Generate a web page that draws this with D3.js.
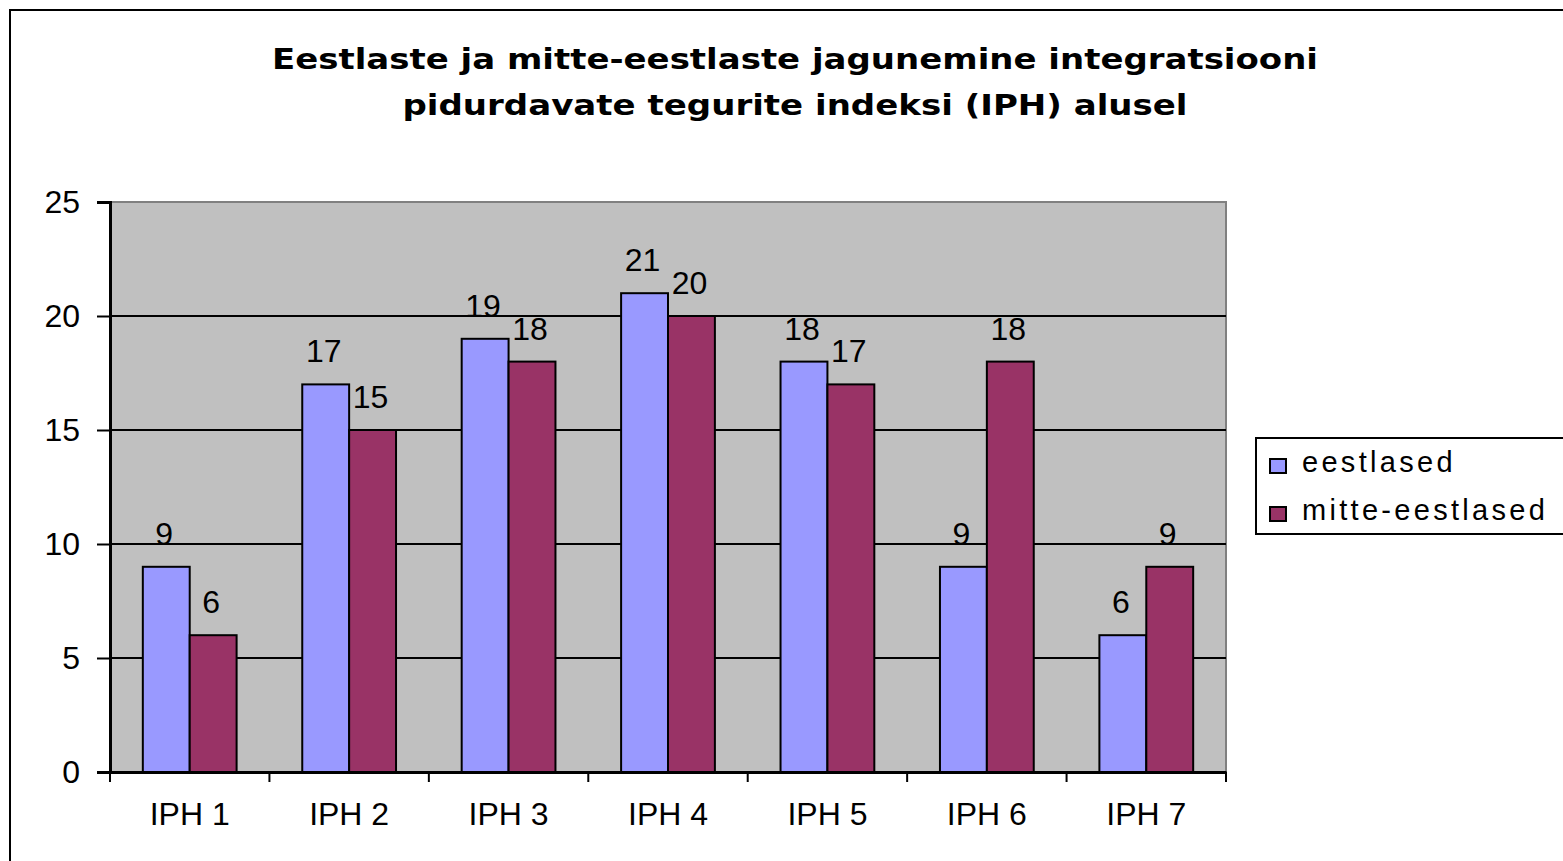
<!DOCTYPE html>
<html>
<head>
<meta charset="utf-8">
<script src="https://cdn.jsdelivr.net/npm/d3@7"></script>
<style>
  body { margin: 0; background: #fff; }
  svg { display: block; }
</style>
</head>
<body>
<svg id="chart" width="1563" height="861"></svg>
<script>
// chart data
const categories = ["IPH 1", "IPH 2", "IPH 3", "IPH 4", "IPH 5", "IPH 6", "IPH 7"];
const seriesNames = ["eestlased", "mitte-eestlased"];
const eestlased = [9, 17, 19, 21, 18, 9, 6];
const mitteEestlased = [6, 15, 18, 20, 17, 18, 9];
const yTicks = [0, 5, 10, 15, 20, 25];
const titleLines = [
  "Eestlaste ja mitte-eestlaste jagunemine integratsiooni",
  "pidurdavate tegurite indeksi (IPH) alusel"
];
const colors = ["#9999FF", "#993366"];

const svg = d3.select("#chart");

// plot box
const plot = { left: 110, top: 202, right: 1226, bottom: 772 };

// outer chart border (right/bottom are outside the window)
svg.append("rect")
  .attr("x", 10).attr("y", 10)
  .attr("width", 1600).attr("height", 900)
  .attr("fill", "#fff")
  .attr("stroke", "#000")
  .attr("stroke-width", 2);

// title
titleLines.forEach((line, i) => {
  svg.append("text")
    .attr("x", 795)
    .attr("y", 69 + i * 46)
    .attr("text-anchor", "middle")
    .attr("font-family", "DejaVu Sans, Verdana, sans-serif")
    .attr("font-weight", "bold")
    .attr("font-size", "29px")
    .attr("textLength", i === 0 ? 1046 : 785)
    .attr("lengthAdjust", "spacingAndGlyphs")
    .attr("fill", "#000")
    .text(line);
});

const x = d3.scaleBand()
  .domain(categories)
  .range([plot.left, plot.right])
  .paddingInner(0)
  .paddingOuter(0);

const xInner = d3.scaleBand()
  .domain(seriesNames)
  .range([0, x.bandwidth()])
  .paddingInner(0)
  .paddingOuter(0.7);

const y = d3.scaleLinear()
  .domain([0, 25])
  .range([plot.bottom, plot.top]);

// plot background
svg.append("rect")
  .attr("x", plot.left).attr("y", plot.top)
  .attr("width", plot.right - plot.left)
  .attr("height", plot.bottom - plot.top)
  .attr("fill", "#C0C0C0")
  .attr("stroke", "#808080")
  .attr("stroke-width", 2);

// gridlines
svg.append("g")
  .selectAll("line")
  .data(yTicks.filter(t => t > 0 && t < 25))
  .join("line")
  .attr("x1", plot.left).attr("x2", plot.right)
  .attr("y1", d => y(d)).attr("y2", d => y(d))
  .attr("stroke", "#000")
  .attr("stroke-width", 2);

// bars
const data = categories.map((c, i) => ({
  cat: c,
  values: [
    { name: seriesNames[0], value: eestlased[i], color: colors[0] },
    { name: seriesNames[1], value: mitteEestlased[i], color: colors[1] }
  ]
}));

const groups = svg.append("g")
  .selectAll("g")
  .data(data)
  .join("g")
  .attr("transform", d => `translate(${x(d.cat)},0)`);

groups.selectAll("rect")
  .data(d => d.values)
  .join("rect")
  .attr("x", d => xInner(d.name))
  .attr("y", d => y(d.value))
  .attr("width", xInner.bandwidth())
  .attr("height", d => y(0) - y(d.value))
  .attr("fill", d => d.color)
  .attr("stroke", "#000")
  .attr("stroke-width", 2);

// data labels
groups.selectAll("text")
  .data(d => d.values)
  .join("text")
  .attr("x", d => xInner(d.name) + xInner.bandwidth() / 2 - 2)
  .attr("y", d => y(d.value) - 22)
  .attr("text-anchor", "middle")
  .attr("font-family", "Liberation Sans, Arial, sans-serif")
  .attr("font-size", "32px")
  .attr("fill", "#000")
  .text(d => d.value);

// y axis
const yAxis = svg.append("g")
  .attr("transform", `translate(${plot.left},0)`)
  .call(d3.axisLeft(y).tickValues(yTicks).tickSize(13).tickPadding(17));
yAxis.select(".domain").attr("stroke", "#000").attr("stroke-width", 3);
yAxis.selectAll(".tick line").attr("stroke", "#000").attr("stroke-width", 2);
yAxis.selectAll(".tick text")
  .attr("font-family", "Liberation Sans, Arial, sans-serif")
  .attr("font-size", "32px")
  .attr("fill", "#000")
  .attr("dy", "0.33em");

// x axis
const xAxis = svg.append("g")
  .attr("transform", `translate(0,${plot.bottom})`)
  .call(d3.axisBottom(x).tickSize(0).tickPadding(30));
xAxis.select(".domain").attr("stroke", "#000").attr("stroke-width", 3);
xAxis.selectAll(".tick text")
  .attr("font-family", "Liberation Sans, Arial, sans-serif")
  .attr("font-size", "32px")
  .attr("fill", "#000");
// category boundary ticks
xAxis.selectAll(".boundary")
  .data(d3.range(categories.length + 1))
  .join("line")
  .attr("class", "boundary")
  .attr("x1", i => plot.left + i * x.step())
  .attr("x2", i => plot.left + i * x.step())
  .attr("y1", 0).attr("y2", 10)
  .attr("stroke", "#000")
  .attr("stroke-width", 2);

// legend
const legend = svg.append("g").attr("transform", "translate(1256,438)");
legend.append("rect")
  .attr("x", 0).attr("y", 0)
  .attr("width", 400).attr("height", 96)
  .attr("fill", "#fff")
  .attr("stroke", "#000")
  .attr("stroke-width", 2);

seriesNames.forEach((name, i) => {
  const row = legend.append("g").attr("transform", `translate(0,${i * 48})`);
  row.append("rect")
    .attr("x", 14).attr("y", 21)
    .attr("width", 16).attr("height", 14)
    .attr("fill", colors[i])
    .attr("stroke", "#000")
    .attr("stroke-width", 2);
  row.append("text")
    .attr("x", 46).attr("y", 34)
    .attr("font-family", "Liberation Sans, Arial, sans-serif")
    .attr("font-size", "29px")
    .attr("letter-spacing", "3.3px")
    .attr("fill", "#000")
    .text(name);
});
</script>
</body>
</html>
